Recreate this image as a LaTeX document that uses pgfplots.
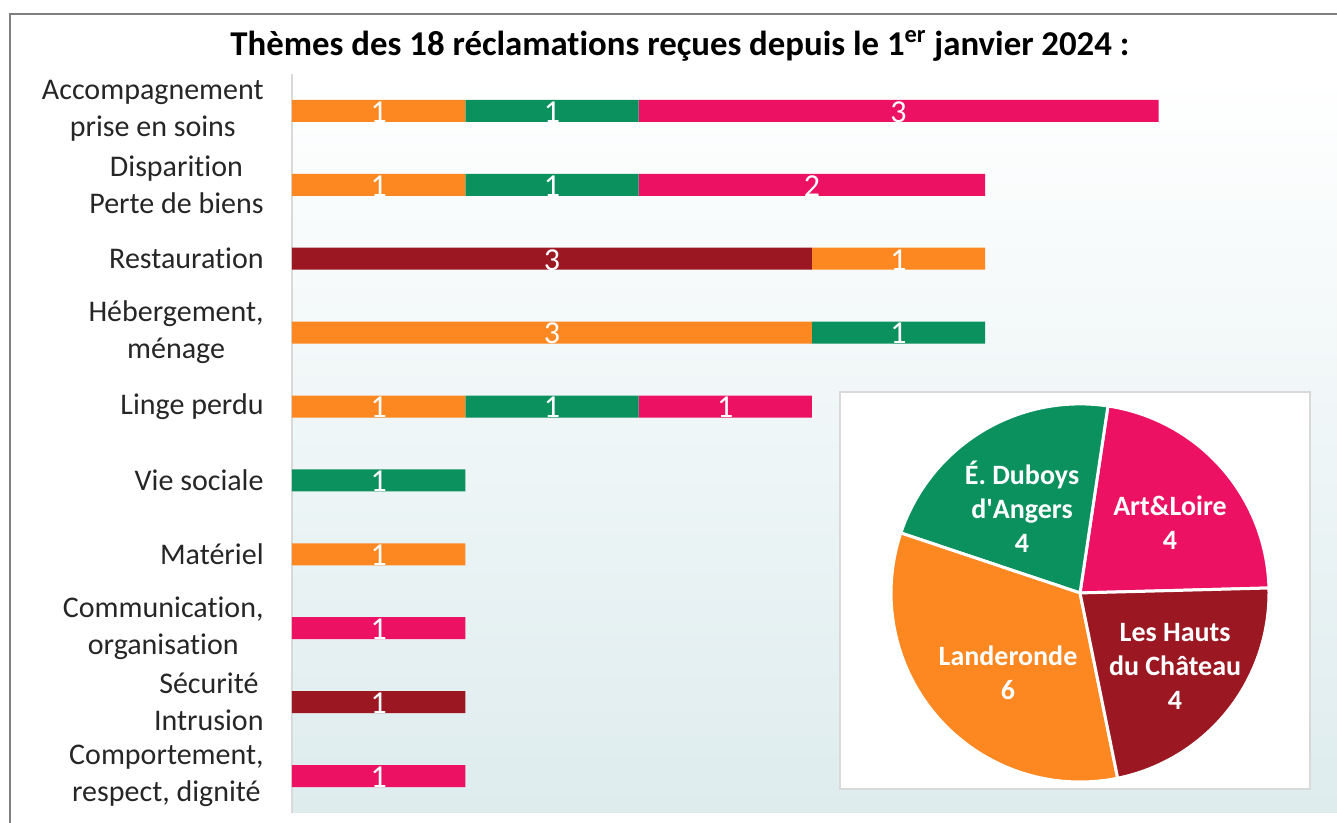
\documentclass[border=0pt]{standalone}
\usepackage{pgfplots}
\pgfplotsset{compat=1.18}
\usepackage{fontspec}
\setmainfont{Carlito}[Ligatures=NoCommon]
\definecolor{cOrange}{HTML}{FD8721}
\definecolor{cGreen}{HTML}{0A915E}
\definecolor{cPink}{HTML}{EC1163}
\definecolor{cRed}{HTML}{9B1722}
\definecolor{bgBottom}{HTML}{DEECEE}
\definecolor{bgMid}{HTML}{F4F8F9}
\definecolor{frameGray}{HTML}{7F7F7F}
\begin{document}
\begin{tikzpicture}
\useasboundingbox (0,0) rectangle (668.5pt,411.5pt);
% outer frame
\draw[frameGray, line width=1pt] (5pt,0pt) -- (5pt,404.5pt) -- (668.5pt,404.5pt);
% title
\node[font=\bfseries\fontsize{17.4}{20}\selectfont] at (340pt,388.5pt)
  {Thèmes des 18 réclamations reçues depuis le 1\textsuperscript{er} janvier 2024 :};

% ---- stacked bars ----
\begin{axis}[
  at={(146pt,5pt)}, anchor=south west, scale only axis,
  width=522.5pt, height=369.5pt,
  xbar stacked, bar width=11pt,
  xmin=0, xmax=6.03, ymin=-0.5, ymax=9.5,
  axis x line=none, axis y line*=left,
  y axis line style={draw=black!15, line width=0.75pt, -},
  ytick={0,...,9},
  yticklabels={{Comportement,\\respect, dignité},{Sécurité\\Intrusion},{Communication,\\organisation},Matériel,Vie sociale,Linge perdu,{Hébergement,\\ménage},Restauration,{Disparition\\Perte de biens},{Accompagnement\\prise en soins}},
  ytick style={draw=none}, major tick length=0pt,
  yticklabel style={align=center, anchor=east, inner sep=0pt, xshift=-14pt,
    font=\fontsize{15}{18.5}\selectfont, text=black!85},
  axis background/.style={top color=white, middle color=bgMid, bottom color=bgBottom},
]
% Les Hauts du Château
\addplot[fill=cRed, draw=none] coordinates {(0,9) (0,8) (3,7) (0,6) (0,5) (0,4) (0,3) (0,2) (1,1) (0,0)};
% Landeronde
\addplot[fill=cOrange, draw=none] coordinates {(1,9) (1,8) (1,7) (3,6) (1,5) (0,4) (1,3) (0,2) (0,1) (0,0)};
% E. Duboys d'Angers
\addplot[fill=cGreen, draw=none] coordinates {(1,9) (1,8) (0,7) (1,6) (1,5) (1,4) (0,3) (0,2) (0,1) (0,0)};
% Art&Loire
\addplot[fill=cPink, draw=none] coordinates {(3,9) (2,8) (0,7) (0,6) (1,5) (0,4) (0,3) (1,2) (0,1) (1,0)};
\end{axis}

% ---- data labels (segment midpoints) ----
\begin{axis}[
  at={(146pt,5pt)}, anchor=south west, scale only axis,
  width=522.5pt, height=369.5pt,
  xmin=0, xmax=6.03, ymin=-0.5, ymax=9.5, hide axis,
]
\addplot[only marks, mark=none, point meta=explicit symbolic, nodes near coords,
  every node near coord/.append style={anchor=center, text=white, inner sep=0pt,
    yshift=-0.5pt, font=\fontsize{16}{18}\selectfont}]
  coordinates {
  (0.5,9) [1] (1.5,9) [1] (3.5,9) [3]
  (0.5,8) [1] (1.5,8) [1] (3,8) [2]
  (1.5,7) [3] (3.5,7) [1]
  (1.5,6) [3] (3.5,6) [1]
  (0.5,5) [1] (1.5,5) [1] (2.5,5) [1]
  (0.5,4) [1] (0.5,3) [1] (0.5,2) [1] (0.5,1) [1] (0.5,0) [1]
  };
\end{axis}

% ---- pie inset ----
\begin{axis}[
  at={(420pt,17pt)}, anchor=south west, scale only axis,
  width=235pt, height=198.5pt,
  xmin=-1.270, xmax=1.217, ymin=-1.037, ymax=1.063,
  ticks=none, axis line style={draw=black!15, line width=1.2pt},
  axis background/.style={fill=white}, clip=false,
]
% values: Art&Loire 4, E. Duboys 4, Landeronde 6, Les Hauts 4 (20 degrees per unit)
\addplot[fill=cPink, draw=white, line width=1.5pt, domain=1.5:81.5, samples=60] ({cos(x)},{sin(x)}) -- (axis cs:0,0) -- cycle;
\addplot[fill=cGreen, draw=white, line width=1.5pt, domain=81.5:161.5, samples=60] ({cos(x)},{sin(x)}) -- (axis cs:0,0) -- cycle;
\addplot[fill=cOrange, draw=white, line width=1.5pt, domain=161.5:281.5, samples=80] ({cos(x)},{sin(x)}) -- (axis cs:0,0) -- cycle;
\addplot[fill=cRed, draw=white, line width=1.5pt, domain=281.5:361.5, samples=60] ({cos(x)},{sin(x)}) -- (axis cs:0,0) -- cycle;
\begin{scope}[every node/.style={align=center, text=white, font=\bfseries\fontsize{14}{17}\selectfont}]
\node at (axis cs:-0.307,0.455) {É. Duboys\\d\textquotesingle Angers\\4};
\node at (axis cs:0.476,0.370) {Art\&Loire\\4};
\node at (axis cs:-0.381,-0.423) {Landeronde\\6};
\node at (axis cs:0.503,-0.386) {Les Hauts\\du Château\\4};
\end{scope}
\end{axis}
\end{tikzpicture}
\end{document}
